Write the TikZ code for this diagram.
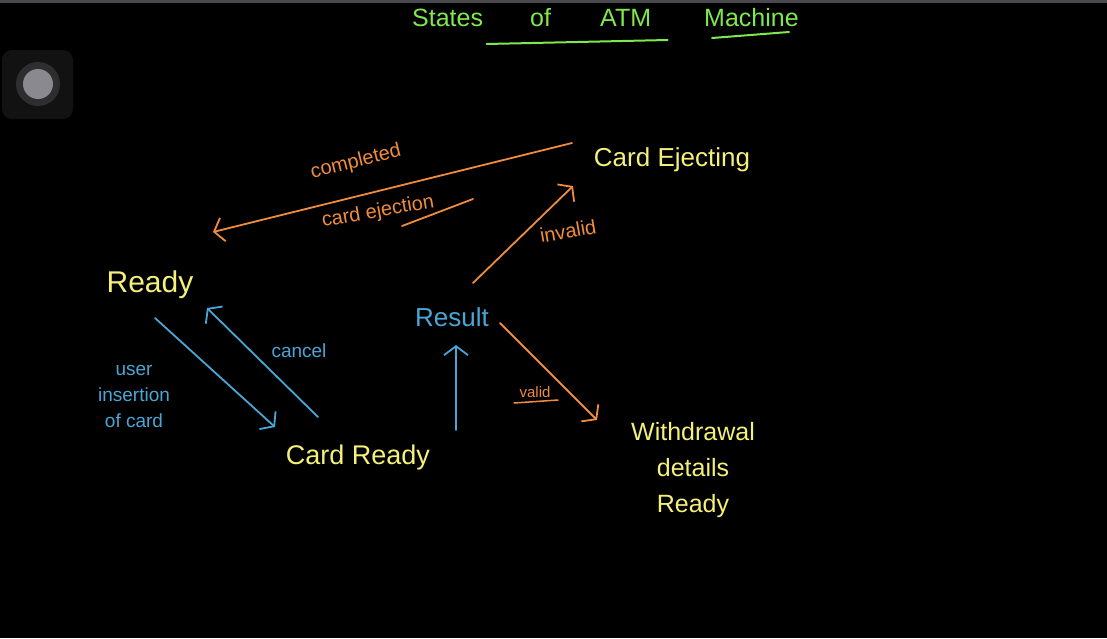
\documentclass[tikz,border=0pt]{standalone}
\usepackage{fontspec}
\setmainfont{Liberation Sans}
\usetikzlibrary{arrows.meta,calc}
\definecolor{hyellow}{HTML}{F4F07A}
\definecolor{hblue}{HTML}{4AA6D6}
\definecolor{horange}{HTML}{F08C3C}
\definecolor{hgreen}{HTML}{80E84E}
\definecolor{topbar}{HTML}{4A4A4E}
\definecolor{btnbg}{HTML}{121212}
\definecolor{btnring}{HTML}{2E2E30}
\definecolor{btnin}{HTML}{8A898F}
\tikzset{
  state/.style={text=hyellow, inner sep=0pt, font=\fontsize{26}{30}\selectfont},
  bstate/.style={text=hblue, inner sep=0pt, font=\fontsize{26}{30}\selectfont},
  olabel/.style={text=horange, inner sep=0pt, font=\fontsize{20}{24}\selectfont},
  blabel/.style={text=hblue, inner sep=0pt, font=\fontsize{19}{26}\selectfont, align=center},
  title/.style={text=hgreen, inner sep=0pt, anchor=base west, font=\fontsize{25}{30}\selectfont},
  oarr/.style={draw=horange, line width=1.8pt, line cap=round, -{Straight Barb[length=9pt,width=24pt,line width=1.8pt]}},
  barr/.style={draw=hblue, line width=1.8pt, line cap=round, -{Straight Barb[length=9pt,width=24pt,line width=1.8pt]}},
}
\begin{document}
\begin{tikzpicture}[x=1pt,y=-1pt]
\useasboundingbox (0,0) rectangle (1107,638);
\clip (0,0) rectangle (1107,638);
\fill[black] (0,0) rectangle (1107,638);
\fill[topbar] (0,0) rectangle (1107,3);
% button
\fill[btnbg, rounded corners=10pt] (2,50) rectangle (73,119);
\fill[btnring] (38,84) circle (22);
\fill[btnin] (38,84) circle (15);
% title
\node[title] (t1) at (412,26) {States};
\node[title] (t2) at (530,26) {of};
\node[title] (t3) at (600,26) {ATM};
\node[title] (t4) at (704,26) {Machine};
\draw[hgreen, line width=2pt, line cap=round] ($(t2.base)+(-54,18)$) coordinate (u1) -- ($(t2.base)+(127,14)$) coordinate (u2);
\draw[hgreen, line width=2pt, line cap=round] ($(t4.base west)+(8,12)$) coordinate (u3) -- ($(t4.base west)+(85,6)$) coordinate (u4);
% states
\node[state] (ce) at (672,160) {Card Ejecting};
\node[state, font=\fontsize{30}{34}\selectfont] (ready) at (150,285) {Ready};
\node[bstate] (result) at (452,317) {Result};
\node[state, font=\fontsize{27}{30}\selectfont] (cr) at (358,458) {Card Ready};
\node[state, font=\fontsize{25}{36}\selectfont, align=center] (wd) at (693,470) {Withdrawal\\details\\Ready};
% connectors
\draw[oarr] ($(ce)+(-100,-17)$) -- ($(ready)+(63,-53)$);
\draw[oarr] ($(result)+(21,-34)$) -- ($(ce)+(-99,26)$);
\draw[barr] ($(ready)+(5,33)$) -- ($(cr)+(-83,-31)$);
\draw[barr] ($(cr)+(-40,-41)$) -- ($(ready)+(57,23)$);
\draw[barr] ($(cr)+(98,-28)$) -- ($(result)+(4,28)$);
\draw[oarr] ($(result)+(48,6)$) -- ($(wd)+(-96,-50)$);
% labels
\node[olabel, rotate=14] (l1) at (356,162) {completed};
\node[olabel, rotate=10] (l2) at (378,212) {card ejection};
\draw[horange, line width=1.8pt, line cap=round] ($(l2)+(24,14)$) coordinate (l2a) -- ($(l2)+(95,-13)$) coordinate (l2b);
\node[olabel, rotate=10] (l3) at (568,231) {invalid};
\node[blabel] (l4) at (299,351) {cancel};
\node[blabel] (l5) at (134,396) {user\\insertion\\of card};
\node[olabel, font=\fontsize{15}{18}\selectfont] (l6) at (535,392) {valid};
\draw[horange, line width=1.5pt, line cap=round] ($(l6)+(-21,11)$) coordinate (l6a) -- ($(l6)+(23,8)$) coordinate (l6b);
\end{tikzpicture}
\end{document}
